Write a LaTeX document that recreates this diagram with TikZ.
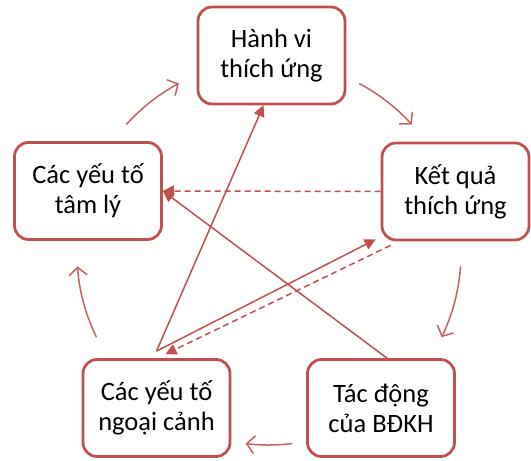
\documentclass[tikz,border=0pt]{standalone}
\usepackage{fontspec}
\setmainfont{Carlito}
\usepackage{xcolor}
\usetikzlibrary{arrows.meta, calc}
\definecolor{boxred}{HTML}{C0504D}

\begin{document}
\begin{tikzpicture}[x=1bp, y=-1bp,
    stagebox/.style={draw=boxred, line width=2.75bp, rounded corners=14bp, fill=white,
        minimum width=147bp, minimum height=97bp, align=center, inner sep=0pt,
        font=\fontsize{26.5bp}{30bp}\selectfont},
    link/.style={draw=boxred, line width=1.5bp, -{Triangle[length=11bp,width=11bp]}},
    dashlink/.style={link, dash pattern=on 6bp off 4bp},
    roundarrow/.style={draw=boxred!90, line width=1.5bp, -{Straight Barb[length=8bp,width=18bp]}}]
    \useasboundingbox (0,0) rectangle (531,461);
    \coordinate (O) at (269,253);

    \node[stagebox] (hanh) at (271.5,55.5) {Hành vi\\thích ứng};
    \node[stagebox] (tam) at (88,191) {Các yếu tố\\tâm lý};
    \node[stagebox] (ket) at (455.5,191.5) {Kết quả\\thích ứng};
    \node[stagebox] (ngoai) at (156.5,408) {Các yếu tố\\ngoại cảnh};
    \node[stagebox] (tac) at (381,408) {Tác động\\của BĐKH};

    \draw[roundarrow] ($(O)+(-138:192)$) arc[start angle=-138, end angle=-118, radius=192];
    \draw[roundarrow] ($(O)+(-62:192)$) arc[start angle=-62, end angle=-42, radius=192];
    \draw[roundarrow] ($(O)+(4:192)$) arc[start angle=4, end angle=26, radius=192];
    \draw[roundarrow] ($(O)+(83:192)$) arc[start angle=83, end angle=97, radius=192];
    \draw[roundarrow] ($(O)+(154:192)$) arc[start angle=154, end angle=176, radius=192];

    \draw[link] ([yshift=7bp]ngoai.north) -- ([xshift=-8bp]hanh.south);
    \draw[link] ([yshift=7bp]ngoai.north) -- ([shift={(-5bp,2bp)}]ket.south west);
    \draw[dashlink] ([shift={(10bp,-4bp)}]ket.south west) -- ([shift={(9bp,4bp)}]ngoai.north);
    \draw[dashlink] (ket.west) -- (tam.east);
    \draw[link] ([xshift=6bp]tac.north) -- (tam.east);
\end{tikzpicture}
\end{document}
